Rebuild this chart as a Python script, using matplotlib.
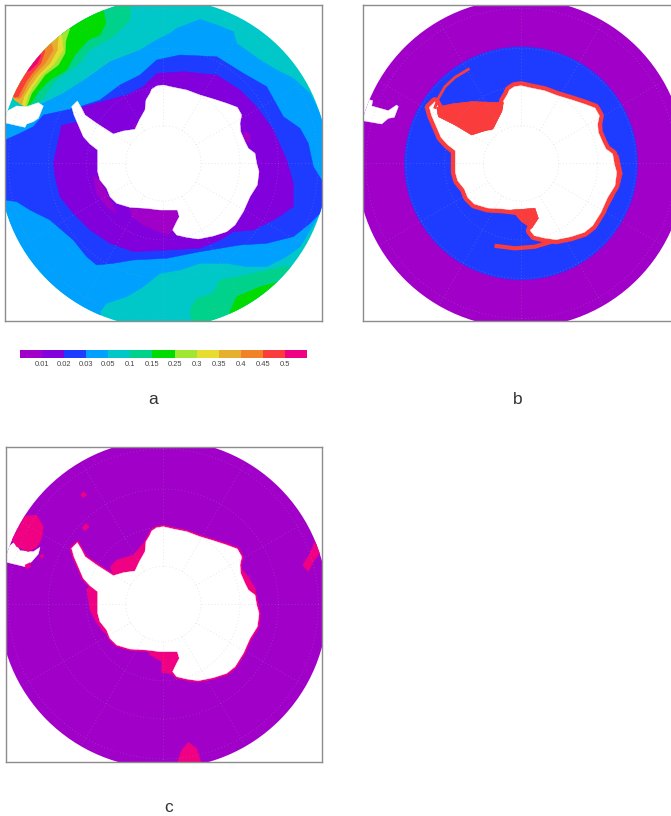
import numpy as np
import matplotlib
matplotlib.use("Agg")
import matplotlib.pyplot as plt
from matplotlib.patches import Polygon, Circle

plt.rcParams['font.family'] = ['Liberation Sans', 'DejaVu Sans']

# colour scale
levels = ['0.01', '0.02', '0.03', '0.05', '0.1', '0.15', '0.25', '0.3', '0.35', '0.4', '0.45', '0.5']
colors = ['#a000c8', '#8200dc', '#1e3cff', '#00a0ff', '#00c8c8', '#00d28c', '#00dc00',
          '#a0e632', '#e6dc32', '#e6af2d', '#f08228', '#fa3c3c', '#f00082']

# Regions, as map coordinates (3 units per pixel)
coast = [(215,320),(232,303),(245,325),(255,345),(290,370),(340,402),(370,393),(405,388),(418,360),(435,330),
         (438,300),(450,280),(455,268),(470,258),(490,255),(520,262),(560,270),(600,285),(640,297),(680,310),
         (712,322),(725,345),(720,370),(722,395),(735,425),(745,445),(765,460),(770,490),(777,515),(772,555),
         (750,590),(730,635),(705,675),(680,695),(640,708),(595,717),(560,712),(530,705),(518,690),(530,665),
         (538,650),(532,630),(480,630),(440,625),(390,622),(350,610),(330,590),(320,565),(300,540),(293,515),
         (293,450),(270,432),(250,410),(235,375),(222,345)]

a_levels = [
    (3, [(-50,380),(40,345),(70,322),(130,310),(190,280),(260,235),(330,185),(420,150),(470,120),(510,100),(530,85),
         (600,58),(650,75),(700,95),(710,130),(780,180),(830,210),(880,235),(930,280),(960,340),(1040,400),(1040,600),
         (960,640),(900,740),(860,770),(800,800),(740,800),(680,790),(600,790),(540,810),(480,820),(430,860),(380,890),
         (320,910),(300,935),(320,1040),(-50,1040)]),
    (5, [(300,-20),(395,-20),(390,60),(340,110),(270,150),(240,190),(170,240),(125,300),(100,312),(75,322),(40,300),(-20,200),(100,60)]),
    (5, [(570,930),(590,895),(640,880),(660,840),(740,825),(850,800),(950,800),(800,1040),(600,1040),(575,960)]),
    (6, [(310,30),(318,70),(300,105),(265,120),(225,165),(200,210),(150,240),(115,275),(100,300),(80,322),(45,300),(-20,200),(100,60)]),
    (6, [(690,935),(710,890),(780,860),(820,850),(950,800),(800,1040),(680,1040)]),
    (7, [(210,85),(198,120),(195,160),(175,195),(135,225),(110,260),(95,280),(80,320),(45,300),(-20,200),(100,60)]),
    (8, [(185,105),(190,150),(160,195),(125,225),(100,260),(85,285),(75,320),(45,300),(-20,200),(100,60)]),
    (9, [(175,110),(172,150),(150,190),(115,225),(90,260),(72,290),(65,315),(45,300),(-20,200),(100,60)]),
    (10, [(155,132),(160,150),(135,190),(105,222),(85,250),(70,280),(60,295),(45,295),(-20,200),(100,60)]),
    (11, [(135,155),(122,190),(95,222),(78,245),(65,270),(55,290),(42,292),(-20,200),(100,60)]),
    (12, [(122,168),(112,190),(90,212),(75,215),(-20,200),(100,60)]),
    (2, [(-50,420),(15,420),(60,400),(100,380),(130,345),(200,330),(240,320),(300,300),(360,255),(420,225),(470,180),
         (540,165),(650,170),(730,220),(800,260),(850,350),(900,385),(925,430),(940,500),(965,540),(1040,600),(960,640),
         (930,670),(880,710),(800,730),(720,735),(600,755),(500,775),(400,780),(340,790),(290,795),(260,770),(220,720),
         (150,660),(90,630),(50,605),(-50,590)]),
    (1, [(185,375),(240,365),(240,325),(250,320),(380,285),(430,260),(470,220),(550,215),(650,225),(720,270),(770,320),
         (820,390),(860,480),(880,550),(880,620),(830,655),(760,690),(700,695),(660,720),(600,745),(500,750),(400,755),
         (330,730),(270,690),(220,640),(180,590),(165,530),(160,490),(175,420)]),
    (0, [(280,530),(300,540),(325,590),(350,640),(320,620),(290,580)]),
    (0, [(390,625),(530,630),(535,650),(520,690),(500,705),(430,675),(395,650)]),
    (0, [(730,395),(750,400),(752,430),(730,420)]),
    (0, [(398,375),(408,368),(405,388)]),
]
a_land = [(50,318),(80,320),(115,308),(130,318),(115,355),(100,365),(80,372),(75,382),(0,365),(0,345)]

b_shelf_w = [(245,322),(290,312),(350,305),(445,308),(440,335),(415,385),(390,392),(350,405),(300,375),(250,350)]
b_shelf_r = [(470,630),(540,625),(550,655),(530,685),(500,665)]
b_bulge = [(775,465),(790,465),(802,520),(795,550),(775,550)]
b_arc_top = [(340,208),(300,232),(270,260),(250,295),(240,322)]
b_arc_bottom = [(425,738),(480,745),(540,740),(600,722),(660,710),(700,690),(740,640),(770,590),(785,545)]
b_land = [(40,298),(53,302),(50,318),(100,332),(125,315),(130,320),(118,352),(100,355),(80,372),(0,358),(0,330)]

c_spots = [
    [(75,228),(110,225),(130,260),(125,295),(110,322),(85,335),(50,320),(35,298)],
    [(250,155),(260,165),(250,173),(242,165)],
    [(258,250),(268,260),(255,272),(246,264)],
    [(945,305),(970,325),(940,365),(925,395),(908,375),(930,340)],
    [(565,907),(590,925),(605,975),(530,975),(545,930)],
    [(120,345),(133,345),(125,357)],
    [(75,375),(90,368),(92,380),(78,387)],
    [(340,405),(330,380),(350,360),(400,345),(430,310),(445,295),(435,340),(415,370),(405,392),(380,398)],
    [(440,628),(540,632),(545,660),(525,702),(485,698),(485,665),(450,645)],
    [(260,445),(295,440),(295,520),(325,570),(335,595),(310,575),(285,540),(270,510)],
    [(722,385),(745,410),(768,450),(765,470),(735,440)],
]
c_land = [(45,305),(60,332),(100,335),(120,322),(115,342),(95,365),(75,380),(0,362),(0,340)]

GREY = '#8c8c8c'
PX = 3.0
W, H = 671.0, 816.0
RADIUS = 493

fig = plt.figure(figsize=(6.71, 8.16), dpi=100)


def panel(ox, oy, x0, x1, y0, y1):
    ax = fig.add_axes([(ox + x0 / PX) / W, 1 - (oy + y1 / PX) / H, (x1 - x0) / PX / W, (y1 - y0) / PX / H])
    ax.set_xlim(x0, x1)
    ax.set_ylim(y1, y0)
    ax.set_xticks([])
    ax.set_yticks([])
    for s in ax.spines.values():
        s.set_color(GREY)
        s.set_linewidth(1.0)
        s.set_zorder(20)
    return ax


def fill(ax, pts, color, clip, z=2, **kw):
    p = Polygon(pts, closed=True, facecolor=color, edgecolor=kw.pop('edge', color), linewidth=kw.pop('lw', 0.3),
                joinstyle='round', zorder=z, **kw)
    ax.add_patch(p)
    p.set_clip_path(clip)
    return p


def disc(ax, c, r):
    return Circle(c, r, transform=ax.transData)


def grid(ax, c, clip):
    th = np.linspace(0, 2 * np.pi, 240)
    for r in (113, 230, 345, 465):
        l, = ax.plot(c[0] + r * np.cos(th), c[1] + r * np.sin(th), color='#a8a8a8', lw=0.6,
                     ls=(0, (1, 3)), alpha=0.35, zorder=10)
        l.set_clip_path(clip)
    for d in range(0, 360, 30):
        t = np.radians(d)
        l, = ax.plot([c[0] + 113 * np.cos(t), c[0] + 500 * np.cos(t)],
                     [c[1] + 113 * np.sin(t), c[1] + 500 * np.sin(t)], color='#a8a8a8', lw=0.6,
                     ls=(0, (1, 3)), alpha=0.35, zorder=10)
        l.set_clip_path(clip)


def base(ax, c, color, clip):
    fill(ax, [(c[0] - 600, c[1] - 600), (c[0] + 600, c[1] - 600), (c[0] + 600, c[1] + 600), (c[0] - 600, c[1] + 600)],
         color, clip, z=1)


# panel a
ax = panel(0, 0, 15, 965, 14, 963)
c = (490, 490)
clip = disc(ax, c, RADIUS)
base(ax, c, colors[4], clip)
for i, (k, pts) in enumerate(a_levels):
    fill(ax, pts, colors[k], clip, z=2 + i * 0.01)
fill(ax, a_land, 'white', clip, z=5)
fill(ax, coast, 'white', clip, z=5)
grid(ax, c, clip)

# panel b
ax = panel(355, 0, 25, 975, 14, 963)
c = (498, 490)
clip = disc(ax, c, RADIUS)
base(ax, c, colors[0], clip)
ax.add_patch(Circle(c, 350, facecolor=colors[2], edgecolor='none', zorder=2))
coast_b = [(x + 8, y + 2) for x, y in coast]
fill(ax, coast_b, colors[11], clip, z=3, edge=colors[11], lw=6.5)
fill(ax, b_shelf_w, colors[11], clip, z=4)
fill(ax, b_shelf_r, colors[11], clip, z=4)
fill(ax, b_bulge, colors[11], clip, z=3)
fill(ax, coast_b, 'white', clip, z=3.5)
fill(ax, b_shelf_w, colors[11], clip, z=4)
fill(ax, b_shelf_r, colors[11], clip, z=4)
ax.plot(*zip(*b_arc_top), color=colors[11], lw=2.0, zorder=4)
ax.plot(*zip(*b_arc_bottom), color=colors[11], lw=3.0, zorder=3.2)
fill(ax, b_land, 'white', clip, z=5)
grid(ax, c, clip)

# panel c
ax = panel(0, 440, 18, 967, 22, 967)
c = (490, 492)
clip = disc(ax, c, RADIUS)
base(ax, c, colors[0], clip)
coast_c = [(x, y + 5) for x, y in coast]
fill(ax, coast_c, colors[12], clip, z=2, edge=colors[12], lw=2.6)
fill(ax, c_land, 'white', clip, z=2.5)
for pts in c_spots:
    fill(ax, pts, colors[12], clip, z=3)
fill(ax, coast_c, 'white', clip, z=4)
grid(ax, c, clip)

# colour bar
cax = fig.add_axes([20 / W, 1 - 358 / H, 287 / W, 8.3 / H])
idx = np.arange(len(colors))
cax.bar(idx, np.ones(len(colors)), width=1.0, color=colors, align='edge', linewidth=0)
cax.set_xlim(0, len(colors))
cax.set_ylim(0, 1)
cax.set_yticks([])
cax.set_xticks(np.arange(1, len(colors)))
cax.set_xticklabels(levels, fontsize=5.4, color='#444444')
cax.tick_params(axis='x', length=0, pad=2)
for s in cax.spines.values():
    s.set_visible(False)

# panel letters
for t, x, y in (('a', 153, 399), ('b', 518, 399), ('c', 169, 807)):
    fig.text(x / W, 1 - y / H, t, fontsize=12.5, color='#333333', ha='center', va='center')

fig.savefig('out.png', dpi=100)
